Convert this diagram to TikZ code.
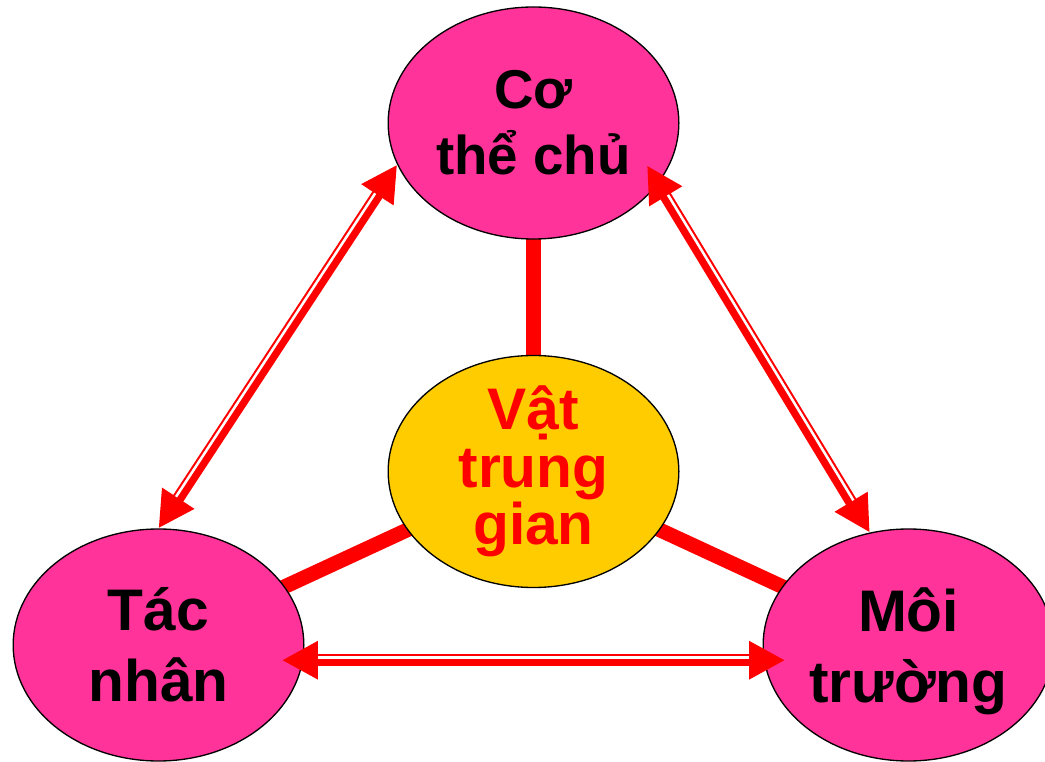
\documentclass[tikz,border=0pt]{standalone}
\usepackage{fontspec}
\setmainfont{Liberation Sans}
\usetikzlibrary{arrows.meta, calc, shapes.geometric, backgrounds}
\definecolor{hostPink}{HTML}{FF3399}
\definecolor{vectorGold}{HTML}{FFCC00}
\definecolor{linkRed}{HTML}{FF0000}
\tikzset{
  blob/.style={ellipse, draw=black, line width=1pt, inner sep=0pt,
    minimum width=218pt, minimum height=174pt, align=center},
  side/.style={blob, fill=hostPink, text=black,
    font=\bfseries\fontsize{44}{53}\selectfont},
  hub/.style={blob, fill=vectorGold, text=linkRed, inner ysep=-8pt,
    font=\bfseries\fontsize{44}{43}\selectfont},
  spoke/.style={linkRed, line width=11pt},
  band/.style={linkRed, line width=9pt,
    {Triangle[length=27pt,width=27pt]}-{Triangle[length=27pt,width=27pt]}}
}
% two-way arrow: red band with a white stripe near its upper edge
\newcommand{\twoway}[2]{%
  \draw[band] (#1) -- (#2);
  \draw[white, line width=1.9pt, shorten <=27pt, shorten >=27pt]
    ($(#1)!2pt!90:(#2)$) -- ($(#2)!2pt!-90:(#1)$);
}

\begin{document}
\begin{tikzpicture}[x=0.75pt, y=-0.75pt]
  \useasboundingbox (0,0) rectangle (1045,762);

  \node[side, font=\bfseries\fontsize{41}{49.5}\selectfont] (co) at (533.5,123) {Cơ\\thể chủ};
  \node[hub] (mid) at (533.5,471.5) {Vật\\trung\\gian};
  \node[side] (tac) at (158.5,645) {Tác\\nhân};
  \node[side, text depth=0pt] (moi) at (908.5,645) {Môi\\trường};

  % spokes sit behind the ellipses
  \begin{scope}[on background layer]
    \draw[spoke] (mid.center) -- (co.center);
    \draw[spoke] (mid.center) -- (tac.center);
    \draw[spoke] (mid.center) -- (moi.center);
  \end{scope}

  % some arrow tips poke into the ellipses
  \coordinate (tipC) at ($(co.334)!-16pt!(moi.109)$);
  \coordinate (tipL) at ($(tac.354)!-16pt!(moi.186)$);
  \coordinate (tipR) at ($(moi.186)!-16pt!(tac.354)$);

  \twoway{tac.90}{co.197}
  \twoway{tipC}{moi.109}
  \twoway{tipL}{tipR}

\end{tikzpicture}
\end{document}
